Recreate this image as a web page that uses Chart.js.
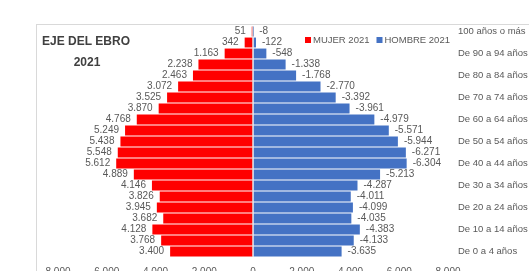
<!DOCTYPE html>
<html>
<head>
<meta charset="utf-8">
<script src="https://cdn.jsdelivr.net/npm/chart.js@4"></script>
<style>
  html, body { margin: 0; padding: 0; background: #fff; overflow: hidden; height: 271px; }
  canvas { display: block; }
</style>
</head>
<body>
<canvas id="pyramid" width="529" height="290"></canvas>
<script>
// ===== Data =====

const ageGroups = [
    '100 años o más', 'De 95 a 99 años', 'De 90 a 94 años', 'De 85 a 89 años',
    'De 80 a 84 años', 'De 75 a 79 años', 'De 70 a 74 años', 'De 65 a 69 años',
    'De 60 a 64 años', 'De 55 a 59 años', 'De 50 a 54 años', 'De 45 a 49 años',
    'De 40 a 44 años', 'De 35 a 39 años', 'De 30 a 34 años', 'De 25 a 29 años',
    'De 20 a 24 años', 'De 15 a 19 años', 'De 10 a 14 años', 'De 5 a 9 años',
    'De 0 a 4 años'
];

const mujer2021 = [51, 342, 1163, 2238, 2463, 3072, 3525, 3870, 4768, 5249, 5438,
    5548, 5612, 4889, 4146, 3826, 3945, 3682, 4128, 3768, 3400];

const hombre2021 = [-8, -122, -548, -1338, -1768, -2770, -3392, -3961, -4979, -5571, -5944,
    -6271, -6304, -5213, -4287, -4011, -4099, -4035, -4383, -4133, -3635];

const xTicks = [-8000, -6000, -4000, -2000, 0, 2000, 4000, 6000, 8000];

const chartTitle = ['EJE DEL EBRO', '2021'];

// ===== Helpers =====

const fmt = (v) => {
    const s = String(Math.abs(v)).replace(/\B(?=(\d{3})+(?!\d))/g, '.');
    return v < 0 ? '-' + s : s;
};

const RED = '#ff0000';
const BLUE = '#4472c4';
const TEXT = '#595959';
const FONT = '"Liberation Sans", Arial, sans-serif';

// ===== Plugins =====

const framePlugin = {
    id: 'frame',
    beforeDraw(chart) {
        const ctx = chart.ctx;
        ctx.save();
        ctx.strokeStyle = '#d9d9d9';
        ctx.lineWidth = 1;
        ctx.strokeRect(36.5, 24.5, 700, 400);
        ctx.restore();
    }
};

const labelsPlugin = {
    id: 'barLabels',
    afterDatasetsDraw(chart) {
        const ctx = chart.ctx;
        ctx.save();
        ctx.font = '10px ' + FONT;
        ctx.fillStyle = TEXT;
        ctx.textBaseline = 'middle';
        chart.data.datasets.forEach((ds, di) => {
            const meta = chart.getDatasetMeta(di);
            meta.data.forEach((bar, i) => {
                const v = ds.data[i];
                if (v >= 0) {
                    ctx.textAlign = 'right';
                    ctx.fillText(fmt(v), bar.x - 6, bar.y);
                } else {
                    ctx.textAlign = 'left';
                    ctx.fillText(fmt(v), bar.x + 6, bar.y);
                }
            });
        });
        ctx.restore();
    }
};

const titleLegendPlugin = {
    id: 'titleLegend',
    afterDraw(chart) {
        const ctx = chart.ctx;
        ctx.save();
        // title
        ctx.font = 'bold 12px ' + FONT;
        ctx.fillStyle = '#404040';
        ctx.textAlign = 'center';
        ctx.textBaseline = 'middle';
        ctx.fillText(chartTitle[0], 86, 42);
        ctx.fillText(chartTitle[1], 87, 63);
        // legend
        ctx.font = '9.5px ' + FONT;
        ctx.textAlign = 'left';
        let x = 305;
        chart.data.datasets.forEach((ds) => {
            ctx.fillStyle = ds.backgroundColor;
            ctx.fillRect(x, 37, 6, 6);
            x += 8;
            ctx.fillStyle = TEXT;
            ctx.fillText(ds.label, x, 40.5);
            x += ctx.measureText(ds.label).width + 7;
        });
        ctx.restore();
    }
};

// ===== Chart =====

const pyramid = new Chart(document.getElementById('pyramid'), {
    type: 'bar',
    data: {
        labels: ageGroups,
        datasets: [{
            label: 'MUJER 2021',
            data: mujer2021,
            backgroundColor: RED
        }, {
            label: 'HOMBRE 2021',
            data: hombre2021,
            backgroundColor: BLUE
        }]
    },
    options: {
        indexAxis: 'y',
        responsive: false,
        animation: false,
        barPercentage: 0.9,
        categoryPercentage: 1,
        layout: { padding: { left: 58, top: 26, right: 0, bottom: 13 } },
        plugins: {
            legend: { display: false },
            tooltip: { enabled: false }
        },
        scales: {
            x: {
                stacked: true,
                reverse: true,
                min: -8000,
                max: 8000,
                z: 1,
                afterBuildTicks: (scale) => {
                    scale.ticks = xTicks.map(v => ({ value: v }));
                },
                afterFit: (scale) => { scale.height = 20; },
                border: { display: false },
                grid: {
                    drawTicks: false,
                    lineWidth: 1.5,
                    color: (c) => c.tick && c.tick.value === 0 ? '#e4e4e4' : 'rgba(0,0,0,0)'
                },
                ticks: {
                    padding: 9,
                    color: TEXT,
                    font: { size: 10, family: FONT },
                    callback: (v) => fmt(Math.abs(v))
                }
            },
            y: {
                stacked: true,
                position: 'right',
                afterFit: (scale) => { scale.width = 81; },
                border: { display: false },
                grid: { display: false, drawTicks: false },
                ticks: {
                    padding: 10,
                    autoSkip: false,
                    color: TEXT,
                    font: { size: 9.5, family: FONT },
                    callback: function (v, i) { return i % 2 === 0 ? this.getLabelForValue(v) : ''; }
                }
            }
        }
    },
    plugins: [framePlugin, labelsPlugin, titleLegendPlugin]
});
</script>
</body>
</html>
